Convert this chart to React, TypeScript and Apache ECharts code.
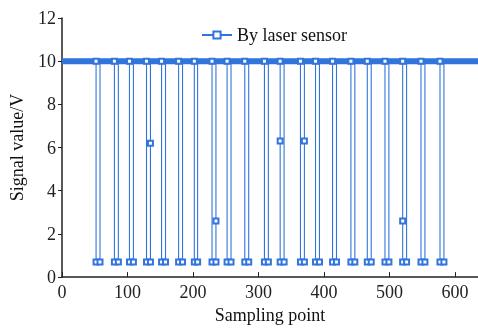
import React, { useEffect, useRef } from "react";
import * as echarts from "echarts";

// Sampling-point positions where each pulse falls and rises back
const pulseFall = [52, 80, 103, 129, 152, 178, 202, 229, 252, 279, 309, 333, 364, 387, 413, 441, 466, 493, 520, 548, 577];
const pulseRise = [58, 86, 109, 135, 158, 184, 207, 235, 258, 285, 315, 339, 370, 393, 419, 447, 472, 499, 526, 554, 583];
// Low level reached by each pulse (V)
const pulseLow = [0.7, 0.7, 0.7, 0.7, 0.7, 0.7, 0.7, 0.7, 0.7, 0.7, 0.7, 0.7, 0.7, 0.7, 0.7, 0.7, 0.7, 0.7, 0.7, 0.7, 0.7];
// Intermediate samples on the falling / rising edges (null = none)
const fallMid: (number | null)[] = [null, null, null, null, null, null, null, null, null, null, null, 6.3, null, null, null, null, null, null, 2.6, null, null];
const riseMid: (number | null)[] = [null, null, null, 6.2, null, null, null, 2.6, null, null, null, null, 6.3, null, null, null, null, null, null, null, null];
const highLevel = 10;
const xStart = 0;
const xEnd = 635;
const yTicks = [0, 2, 4, 6, 8, 10, 12];
const xTicks = [0, 100, 200, 300, 400, 500, 600];

const FONT = "Liberation Serif";
const BLUE = "#3174dc";

export default function App() {
  const ref = useRef<HTMLDivElement>(null);
  useEffect(() => {
    if (!ref.current) return;
    const chart = echarts.init(ref.current, undefined, { renderer: "svg" });

    const data: any[] = [{ value: [xStart, highLevel], symbol: "none" }];
    pulseFall.forEach((a, i) => {
      const b = pulseRise[i];
      data.push({ value: [a, highLevel] });
      if (fallMid[i] != null) data.push({ value: [a, fallMid[i]] });
      data.push({ value: [a, pulseLow[i]] });
      data.push({ value: [b, pulseLow[i]] });
      if (riseMid[i] != null) data.push({ value: [b, riseMid[i]] });
      data.push({ value: [b, highLevel], symbol: "none" });
    });
    data.push({ value: [xEnd, highLevel], symbol: "none" });

    const axisText = { fontFamily: FONT, fontSize: 18, color: "#222" };

    chart.setOption({
      animation: false,
      grid: { left: 56, right: 0, top: 18, bottom: 46, containLabel: false },
      legend: {
        data: ["By laser sensor"],
        left: 196,
        top: 21,
        itemWidth: 30,
        itemHeight: 9,
        itemGap: 6,
        textStyle: { fontFamily: FONT, fontSize: 18, color: "#111" },
      },
      xAxis: {
        type: "value",
        min: xTicks[0],
        max: xEnd,
        interval: 100,
        name: "Sampling point",
        nameLocation: "middle",
        nameGap: 28,
        nameTextStyle: { fontFamily: FONT, fontSize: 18, color: "#111" },
        axisLine: { lineStyle: { color: "#222", width: 1.5 } },
        axisTick: { inside: true, length: 5, lineStyle: { color: "#222" } },
        axisLabel: { ...axisText, margin: 6 },
        splitLine: { show: false },
      },
      yAxis: {
        type: "value",
        min: yTicks[0],
        max: yTicks[yTicks.length - 1],
        interval: 2,
        name: "Signal value/V",
        nameLocation: "middle",
        nameGap: 36,
        nameTextStyle: { fontFamily: FONT, fontSize: 18, color: "#111" },
        axisLine: { show: true, lineStyle: { color: "#222", width: 1.5 } },
        axisTick: { show: true, inside: false, length: 4, lineStyle: { color: "#222" } },
        axisLabel: { ...axisText, margin: 6 },
        splitLine: { show: false },
      },
      series: [
        {
          type: "line",
          name: "band",
          data: [[xStart, highLevel], [xEnd, highLevel]],
          symbol: "none",
          lineStyle: { color: BLUE, width: 6 },
          silent: true,
          z: 1,
        },
        {
          type: "line",
          name: "By laser sensor",
          data,
          symbol: "emptyRect",
          symbolSize: 5,
          itemStyle: { color: BLUE, borderColor: BLUE, borderWidth: 1.3 },
          lineStyle: { color: BLUE, width: 1.1 },
          z: 2,
        },
      ],
    });
    return () => chart.dispose();
  }, []);
  return <div ref={ref} style={{ position: "fixed", left: 0, top: 0, width: 478, height: 329 }} />;
}
